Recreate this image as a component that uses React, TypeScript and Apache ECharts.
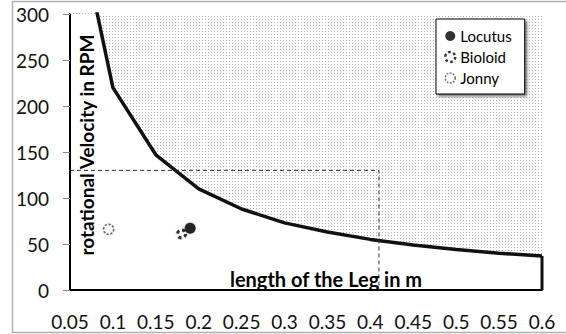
import React, { useEffect, useRef } from 'react';
import * as echarts from 'echarts';

// Data
const legLengths = [0.05, 0.1, 0.15, 0.2, 0.25, 0.3, 0.35, 0.4, 0.45, 0.5, 0.55, 0.6];
const limitRpm = [440, 220, 147, 110, 88, 73, 63, 55, 49, 44, 40, 37];
const guideX = [0.05, 0.41, 0.41];
const guideY = [130, 130, 0];
const frameX = [0.6, 0.6];
const frameY = [37, 0];
const locutus = [[0.19, 67]];
const bioloid = [[0.18, 61]];
const jonny = [[0.095, 66]];
const xMin = 0.05;
const xMax = 0.6;
const xStep = 0.05;
const yMin = 0;
const yMax = 300;
const yStep = 50;
const xTitle = 'length of the Leg in m';
const yTitle = 'rotational Velocity in RPM';

function makePattern(): string {
  const c = document.createElement('canvas');
  c.width = 3;
  c.height = 3;
  const ctx = c.getContext('2d')!;
  ctx.fillStyle = '#ffffff';
  ctx.fillRect(0, 0, 3, 3);
  ctx.fillStyle = '#b4b4b4';
  ctx.fillRect(1, 1, 1, 1);
  return c.toDataURL();
}

export default function App() {
  const ref = useRef<HTMLDivElement>(null);
  useEffect(() => {
    if (!ref.current) return;
    const chart = echarts.init(ref.current, undefined, { renderer: 'svg' });
    const pattern = {
      image: makePattern(),
      repeat: 'repeat',
      imageWidth: 3,
      imageHeight: 3,
    };
    const curve = legLengths.map((x, i) => [x, limitRpm[i]]);
    const guide = guideX.map((x, i) => [x, guideY[i]]);
    const frame = frameX.map((x, i) => [x, frameY[i]]);
    const font = 'Lato, "Open Sans", sans-serif';
    const bioloidStyle = {
      color: '#fff',
      borderColor: '#000',
      borderWidth: 3,
      borderType: [3.2, 3.1],
    };
    const jonnyStyle = {
      color: '#fff',
      borderColor: '#444',
      borderWidth: 1.5,
      borderType: [2.2, 1.6],
    };
    chart.setOption({
      animation: false,
      backgroundColor: '#ffffff',
      grid: { left: 70, top: 14, width: 472, height: 276 },
      xAxis: {
        type: 'value',
        min: xMin,
        max: xMax,
        interval: xStep,
        axisLine: { show: true, lineStyle: { color: '#000', width: 2 } },
        axisTick: { show: false },
        splitLine: { show: false },
        axisLabel: {
          margin: 22,
          fontSize: 19,
          fontFamily: font,
          color: '#111',
          formatter: (v: number) => String(+v.toFixed(2)),
        },
      },
      yAxis: {
        type: 'value',
        min: yMin,
        max: yMax,
        interval: yStep,
        axisLine: { show: true, lineStyle: { color: '#000', width: 2 } },
        axisTick: { show: true, length: 7, lineStyle: { color: '#888', width: 1 } },
        splitLine: { show: false },
        axisLabel: { margin: 21, fontSize: 19, fontFamily: font, color: '#111' },
      },
      legend: {
        orient: 'vertical',
        left: 436,
        top: 19,
        data: [
          { name: 'Locutus' },
          { name: 'Bioloid', itemStyle: { ...bioloidStyle, borderWidth: 2.5, borderType: [2.6, 2.6] } },
          { name: 'Jonny', itemStyle: { ...jonnyStyle, borderType: [1.8, 1.4] } },
        ],
        backgroundColor: '#ffffff',
        borderColor: '#000',
        borderWidth: 1,
        borderRadius: 0,
        padding: [9, 13, 8, 8],
        itemGap: 5,
        itemWidth: 10,
        itemHeight: 10,
        itemTextGap: 9,
        shadowColor: 'rgba(0,0,0,0.55)',
        shadowBlur: 3,
        shadowOffsetX: 2,
        shadowOffsetY: 2,
        textStyle: { fontSize: 15, lineHeight: 16, fontFamily: font, color: '#000' },
      },
      series: [
        {
          name: 'limit',
          type: 'line',
          data: curve,
          symbol: 'none',
          lineStyle: { color: '#111', width: 3.5 },
          areaStyle: { origin: 'end', color: pattern, opacity: 1 },
          z: 2,
        },
        {
          name: 'frame',
          type: 'line',
          data: frame,
          symbol: 'none',
          lineStyle: { color: '#111', width: 3 },
          z: 3,
        },
        {
          name: 'guide',
          type: 'line',
          data: guide,
          symbol: 'none',
          lineStyle: { color: '#333', width: 1, type: [4, 3] },
          z: 3,
        },
        {
          name: 'Locutus',
          type: 'scatter',
          data: locutus,
          symbol: 'circle',
          symbolSize: 11,
          itemStyle: { color: '#000', shadowColor: 'rgba(0,0,0,0.4)', shadowBlur: 2 },
          z: 5,
        },
        {
          name: 'Bioloid',
          type: 'scatter',
          data: bioloid,
          symbol: 'circle',
          symbolSize: 8,
          itemStyle: { ...bioloidStyle, shadowColor: 'rgba(0,0,0,0.3)', shadowBlur: 2 },
          z: 5,
        },
        {
          name: 'Jonny',
          type: 'scatter',
          data: jonny,
          symbol: 'circle',
          symbolSize: 10,
          itemStyle: { ...jonnyStyle, shadowColor: 'rgba(0,0,0,0.3)', shadowBlur: 2 },
          z: 5,
        },
      ],
      graphic: [
        {
          type: 'rect',
          z: 0,
          silent: true,
          shape: { x: 12.5, y: 1.5, width: 600, height: 331 },
          style: { fill: 'none', stroke: '#b0b0b0', lineWidth: 1.5 },
        },
        {
          type: 'text',
          z: 100,
          x: 86,
          y: 145,
          rotation: Math.PI / 2,
          style: {
            text: yTitle,
            fontSize: 19,
            fontWeight: 'bold',
            fontFamily: font,
            fill: '#000',
            align: 'center',
            verticalAlign: 'middle',
          },
        },
        {
          type: 'text',
          z: 100,
          x: 326,
          y: 279,
          style: {
            text: xTitle,
            fontSize: 20,
            fontWeight: 'bold',
            fontFamily: font,
            fill: '#000',
            align: 'center',
            verticalAlign: 'middle',
          },
        },
      ],
    });
    return () => chart.dispose();
  }, []);
  return (
    <div
      ref={ref}
      style={{ position: 'absolute', left: 0, top: 0, width: 566, height: 334 }}
    />
  );
}
